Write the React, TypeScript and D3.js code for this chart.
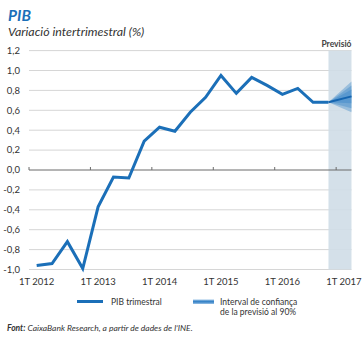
import React from "react";
import * as d3 from "d3";

const quarters = [
  "2012Q1","2012Q2","2012Q3","2012Q4",
  "2013Q1","2013Q2","2013Q3","2013Q4",
  "2014Q1","2014Q2","2014Q3","2014Q4",
  "2015Q1","2015Q2","2015Q3","2015Q4",
  "2016Q1","2016Q2","2016Q3","2016Q4",
  "2017Q1","2017Q2",
];
const gdp = [
  -0.96, -0.94, -0.72, -0.99,
  -0.37, -0.07, -0.08, 0.29,
  0.43, 0.39, 0.58, 0.73,
  0.95, 0.77, 0.93, 0.85,
  0.76, 0.82, 0.68, 0.68,
];
const forecastCentral = 0.74;
const fanBands = [
  { lo: 0.58, hi: 0.89 },
  { lo: 0.62, hi: 0.85 },
  { lo: 0.67, hi: 0.81 },
];
const yTicks = [1.2, 1.0, 0.8, 0.6, 0.4, 0.2, 0.0, -0.2, -0.4, -0.6, -0.8, -1.0];
const xTickLabels = ["1T 2012", "1T 2013", "1T 2014", "1T 2015", "1T 2016", "1T 2017"];
const xTickQuarters = ["2012Q1", "2013Q1", "2014Q1", "2015Q1", "2016Q1", "2017Q1"];

const BLUE = "#1b6fb8";
const FONT = "Lato, 'Liberation Sans', sans-serif";

export default function App() {
  const W = 362, H = 338;
  const x = d3.scaleBand<string>().domain(quarters.slice(0, 21)).range([29, 351.5]).padding(0);
  const y = d3.scaleLinear().domain([-1, 1.2]).range([269.5, 50.6]);
  const cx = (q: string) => (x(q) as number) + x.bandwidth() / 2;
  const line = d3.line<number>().x((_, i) => cx(quarters[i])).y((d) => y(d));
  const lastX = cx(quarters[gdp.length - 1]);
  const lastY = y(gdp[gdp.length - 1]);
  const endX = 351.5;
  const fmt = (v: number) => d3.format(".1f")(v).replace(".", ",").replace("−", "-");
  const yearTicks = [2012, 2013, 2014, 2015, 2016, 2017].map((yr) => x(`${yr}Q1`) as number);

  return (
    <svg width={W} height={H} style={{ position: "absolute", left: 0, top: 0 }}>
      <defs>
        <linearGradient id="legGrad" x1="0" y1="0" x2="0" y2="1">
          <stop offset="0" stopColor="#9cc3e6" />
          <stop offset="0.5" stopColor="#2c7cc4" />
          <stop offset="1" stopColor="#9cc3e6" />
        </linearGradient>
      </defs>
      <rect width={W} height={H} fill="#fff" />
      <text x={8} y={21} fontFamily={FONT} fontSize={15.5} fontWeight="bold" fontStyle="italic" fill={BLUE}>PIB</text>
      <text x={8} y={36} fontFamily={FONT} fontSize={12.4} fontStyle="italic" fill="#333">Variació intertrimestral (%)</text>

      {yTicks.map((t) => (
        <g key={t}>
          {t !== 0 && <line x1={29} x2={endX} y1={y(t)} y2={y(t)} stroke="#d6d6d6" strokeWidth={1} />}
          <text x={20} y={y(t) + 3.3} textAnchor="end" fontFamily={FONT} fontSize={9.5} fill="#333">{fmt(t)}</text>
        </g>
      ))}

      <rect x={lastX} y={y(1.2)} width={endX - lastX} height={y(-1) - y(1.2)} fill="#cfdde7" opacity={0.9} />
      <text x={endX} y={47} textAnchor="end" fontFamily={FONT} fontSize={8.5} fontWeight="bold" fill="#444">Previsió</text>

      <line x1={29} x2={endX} y1={y(0)} y2={y(0)} stroke="#6b6b6b" strokeWidth={1} />
      {yearTicks.map((tx, i) => (
        <line key={i} x1={tx} x2={tx} y1={y(0) - 3} y2={y(0)} stroke="#6b6b6b" strokeWidth={1} />
      ))}

      {fanBands.map((b, i) => (
        <polygon key={i}
          points={`${lastX},${lastY} ${endX},${y(b.hi)} ${endX},${y(b.lo)}`}
          fill="#2a7dc6" opacity={0.35} />
      ))}
      <line x1={lastX} y1={lastY} x2={endX} y2={y(forecastCentral)} stroke="#1565b0" strokeWidth={2} />

      <path d={line(gdp) || ""} fill="none" stroke={BLUE} strokeWidth={3} strokeLinejoin="miter" />

      {xTickQuarters.map((q, i) => (
        <text key={q} x={cx(q)} y={285} textAnchor="middle" fontFamily={FONT} fontSize={9.5} fill="#333">{xTickLabels[i]}</text>
      ))}

      <line x1={77} x2={103} y1={301.5} y2={301.5} stroke={BLUE} strokeWidth={3} />
      <text x={111} y={304.5} fontFamily={FONT} fontSize={8.5} fill="#333">PIB trimestral</text>
      <rect x={193} y={299.5} width={21} height={4.5} fill="url(#legGrad)" />
      <text x={220} y={304.5} fontFamily={FONT} fontSize={8.5} fill="#333">Interval de confiança</text>
      <text x={220} y={314.5} fontFamily={FONT} fontSize={8.5} fill="#333">de la previsió al 90%</text>

      <text x={7} y={331} fontFamily={FONT} fontSize={8.5} fontStyle="italic" fill="#333">
        <tspan fontWeight="bold">Font:</tspan> CaixaBank Research, a partir de dades de l’INE.
      </text>
    </svg>
  );
}
